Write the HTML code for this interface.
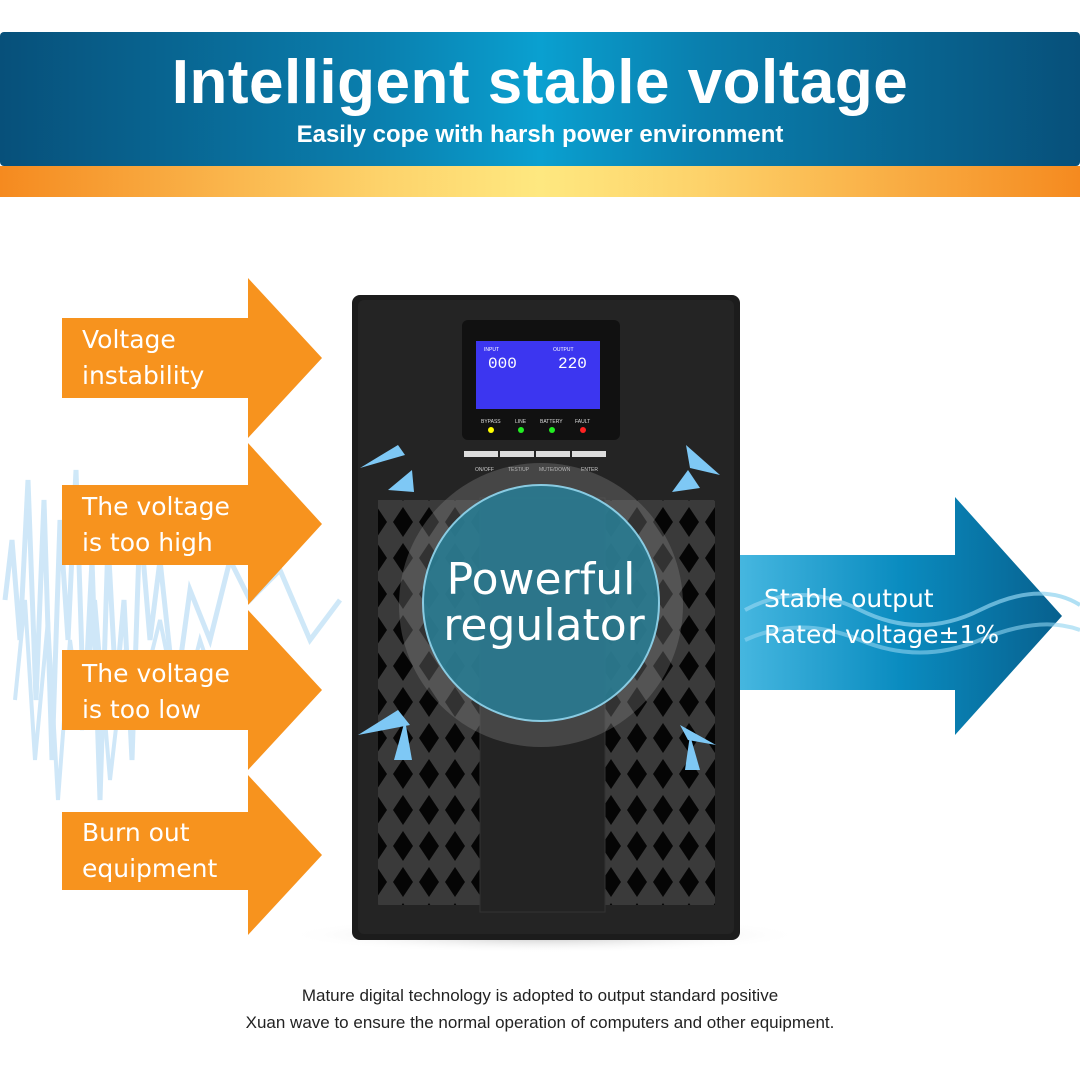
<!DOCTYPE html>
<html><head><style>
body{margin:0;width:1080px;height:1080px;background:#fff;position:relative;overflow:hidden;font-family:"Liberation Sans",sans-serif}
.abs{position:absolute}
.lbl{position:absolute;color:#fff;font-size:25px;line-height:36px;letter-spacing:0px;font-family:"DejaVu Sans","Liberation Sans",sans-serif}
</style></head><body>
<div class="abs" style="left:0;top:32px;width:1080px;height:134px;border-radius:4px;background:linear-gradient(90deg,#07507a 0%,#0a7fae 35%,#0aa0d0 50%,#0a7fae 65%,#07507a 100%)"></div>
<div class="abs" style="left:0;top:166px;width:1080px;height:31px;background:linear-gradient(90deg,#f58a1f 0%,#fdd26a 35%,#fee880 50%,#fdd26a 65%,#f58a1f 100%)"></div>
<div class="abs" style="left:0;top:48px;width:1080px;text-align:center;color:#fff;font-weight:bold;font-size:62px;line-height:70px;letter-spacing:0.5px">Intelligent stable voltage</div>
<div class="abs" style="left:0;top:120px;width:1080px;text-align:center;color:#fff;font-weight:bold;font-size:24px;line-height:30px">Easily cope with harsh power environment</div>

<svg class="abs" style="left:0;top:0" width="1080" height="1080">
<defs>
<linearGradient id="bl" x1="0" x2="1"><stop offset="0" stop-color="#46b7e0"/><stop offset="0.5" stop-color="#0a8cc0"/><stop offset="1" stop-color="#07608e"/></linearGradient>
<pattern id="dia" width="26" height="36" patternUnits="userSpaceOnUse"><rect width="26" height="36" fill="#3a3a3a"/><path d="M13 3 L23 18 L13 33 L3 18Z" fill="#050505"/></pattern>
<radialGradient id="sh"><stop offset="0" stop-color="#bbb"/><stop offset="1" stop-color="#fff" stop-opacity="0"/></radialGradient>
</defs>
<g stroke="#bfe0f6" fill="none" opacity="0.75">
<path d="M5 600 L12 540 L20 640 L28 480 L36 700 L44 500 L52 760 L60 520 L68 640 L76 470 L84 720 L92 560 L100 800 L108 540 L116 690 L124 600 L132 760 L140 520 L150 640 L160 560 L175 700 L190 590 L210 640 L230 560 L250 600 L280 570 L310 640 L340 600" stroke-width="5"/>
<path d="M15 700 L25 600 L35 760 L48 620 L58 800 L70 640 L82 730 L95 600 L110 780 L125 650 L140 700 L160 620 L180 720 L200 640 L220 700 L240 660" stroke-width="4"/>
</g>
<g fill="#f7931e">
<path d="M62 318H248V278L322 358L248 438V398H62Z"/>
<path d="M62 485H248V443L322 524L248 605V565H62Z"/>
<path d="M62 650H248V610L322 690L248 770V730H62Z"/>
<path d="M62 812H248V775L322 855L248 935V890H62Z"/>
</g>
<path d="M738 555H955V497L1062 616L955 735V690H738Z" fill="url(#bl)"/>
<path d="M745 610 Q800 580 860 610 T980 610 T1080 605" stroke="#8fd3f0" stroke-width="4" fill="none" opacity="0.7"/>
<path d="M745 640 Q800 615 860 640 T980 640 T1080 630" stroke="#8fd3f0" stroke-width="4" fill="none" opacity="0.6"/>
<ellipse cx="545" cy="935" rx="260" ry="18" fill="url(#sh)"/>
<rect x="352" y="295" width="388" height="645" rx="8" fill="#1c1c1c"/>
<rect x="358" y="300" width="376" height="634" rx="6" fill="#242424"/>
<rect x="462" y="320" width="158" height="120" rx="6" fill="#111"/>
<rect x="476" y="341" width="124" height="68" fill="#3c36f0"/>
<text x="484" y="351" fill="#fff" font-size="5">INPUT</text><text x="553" y="351" fill="#fff" font-size="5">OUTPUT</text>
<text x="488" y="368" fill="#fff" font-size="16" font-family="Liberation Mono">000</text>
<text x="558" y="368" fill="#fff" font-size="16" font-family="Liberation Mono">220</text>
<g font-size="5" fill="#ddd"><text x="481" y="423">BYPASS</text><text x="515" y="423">LINE</text><text x="540" y="423">BATTERY</text><text x="575" y="423">FAULT</text></g>
<circle cx="491" cy="430" r="3" fill="#ff0"/><circle cx="521" cy="430" r="3" fill="#2e2"/><circle cx="552" cy="430" r="3" fill="#2e2"/><circle cx="583" cy="430" r="3" fill="#f22"/>
<g fill="#ddd"><rect x="464" y="451" width="34" height="6"/><rect x="500" y="451" width="34" height="6"/><rect x="536" y="451" width="34" height="6"/><rect x="572" y="451" width="34" height="6"/></g>
<g font-size="5" fill="#ccc"><text x="475" y="471">ON/OFF</text><text x="508" y="471">TEST/UP</text><text x="539" y="471">MUTE/DOWN</text><text x="581" y="471">ENTER</text></g>
<rect x="378" y="500" width="102" height="405" fill="url(#dia)"/>
<rect x="605" y="500" width="110" height="405" fill="url(#dia)"/>
<rect x="480" y="498" width="125" height="414" fill="#232323" stroke="#333"/>
<circle cx="541" cy="605" r="142" fill="#888" opacity="0.35"/>
<circle cx="541" cy="603" r="118" fill="#2a7a90" opacity="0.92" stroke="#8fd7f0" stroke-width="2"/>
<g fill="#7ec8f5"><path d="M360 468L405 455L398 445Z"/><path d="M388 490L412 470L414 492Z"/><path d="M720 475L690 468L686 445Z"/><path d="M672 492L700 488L688 470Z"/><path d="M358 735L410 725L398 710Z"/><path d="M394 760L405 720L412 760Z"/><path d="M716 745L688 740L680 725Z"/><path d="M685 770L690 735L700 770Z"/></g>
<text x="541" y="594" fill="#fff" font-size="44" text-anchor="middle" font-family="DejaVu Sans">Powerful</text>
<text x="544" y="640" fill="#fff" font-size="44" text-anchor="middle" font-family="DejaVu Sans">regulator</text>
</svg>
<div class="lbl" style="left:82px;top:322px">Voltage<br>instability</div>
<div class="lbl" style="left:82px;top:489px">The voltage<br>is too high</div>
<div class="lbl" style="left:82px;top:656px">The voltage<br>is too low</div>
<div class="lbl" style="left:82px;top:815px">Burn out<br>equipment</div>
<div class="lbl" style="left:764px;top:581px">Stable output<br>Rated voltage±1%</div>
<div class="abs" style="left:0;top:982px;width:1080px;text-align:center;color:#222;font-size:17px;line-height:27px">Mature digital technology is adopted to output standard positive<br>Xuan wave to ensure the normal operation of computers and other equipment.</div>
</body></html>
